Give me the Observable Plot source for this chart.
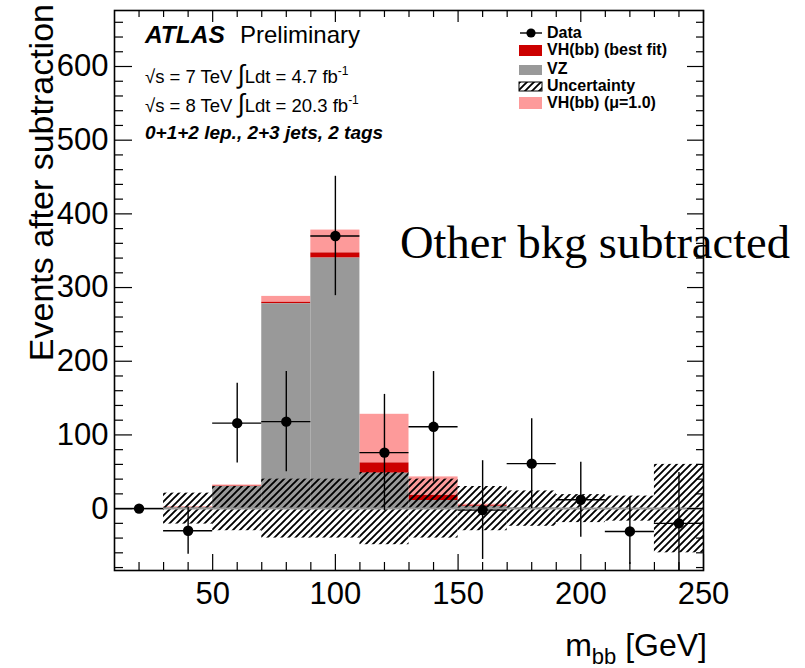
<!DOCTYPE html>
<html><head><meta charset="utf-8">
<script src="https://cdn.jsdelivr.net/npm/d3@7"></script>
<script src="https://cdn.jsdelivr.net/npm/@observablehq/plot@0.6"></script>
<style>body{margin:0;background:#fff}#chart{position:relative;width:805px;height:668px}</style>
</head><body><div id="chart"></div>
<script>
// ---- data ----
const binLow  = [10, 30, 50, 70, 90, 110, 130, 150, 170, 190, 210, 230];
const binHigh = [30, 50, 70, 90, 110, 130, 150, 170, 190, 210, 230, 250];
const vz          = [0, 1, 30, 278, 340, 48, 11, 3, 1, 0, 0, 0];
const vhBestFit   = [0, 0.5, 0.5, 2, 7, 14, 7, 1, 0, 0, 0, 0];
const vhMu1       = [0, 1, 1.5, 8, 31, 66, 25, 2, 0, 0, 0, 0];
const uncertainty = [0, 21, 30, 40, 40, 49, 40, 30, 24, 19, 17, 60];
const dataMass   = [20, 40, 60, 80, 100, 120, 140, 160, 180, 200, 220, 240];
const dataEvents = [0, -30, 116, 118, 370, 76, 111, -2, 61, 12, -31, -20];
const dataError  = [0, 32, 54, 68, 81, 79, 75, 67, 61, 51, 45, 69];
const xTickLabels = [50, 100, 150, 200, 250];
const yTickLabels = [0, 100, 200, 300, 400, 500, 600];
const xMinorTicks = [20, 30, 40, 60, 70, 80, 90, 110, 120, 130, 140, 160, 170, 180, 190, 210, 220, 230, 240];
const yMinorTicks = [-80, -60, -40, -20, 20, 40, 60, 80, 120, 140, 160, 180, 220, 240, 260, 280, 320, 340, 360, 380,
                     420, 440, 460, 480, 520, 540, 560, 580, 620, 640, 660];

const bins = binLow.map((lo, i) => ({
  lo, hi: binHigh[i], vz: vz[i], best: vhBestFit[i], mu1: vhMu1[i], unc: uncertainty[i]
}));
const points = dataMass.map((m, i) => ({
  m, lo: binLow[i], hi: binHigh[i], v: dataEvents[i], e: dataError[i]
}));

const W = 805, H = 668, mL = 114, mR = 102, mT = 10, mB = 98;
const frameW = W - mL - mR, frameH = H - mT - mB;
const major = 16, minor = 8;

const svg = Plot.plot({
  width: W, height: H,
  marginLeft: mL, marginRight: mR, marginTop: mT, marginBottom: mB,
  style: {fontFamily: "Liberation Sans, Arial, sans-serif", color: "black", background: "white"},
  x: {domain: [10, 250]},
  y: {domain: [-84, 676]},
  marks: [
    Plot.rect(bins, {x1: "lo", x2: "hi", y1: d => d.vz + d.best, y2: d => d.vz + d.best + d.mu1, fill: "#fd9a9a"}),
    Plot.rect(bins, {x1: "lo", x2: "hi", y1: d => d.vz, y2: d => d.vz + d.best, fill: "#cc0000"}),
    Plot.rect(bins, {x1: "lo", x2: "hi", y1: 0, y2: d => d.vz, fill: "#999999"}),
    Plot.rect(bins.filter(d => d.unc > 0), {x1: "lo", x2: "hi", y1: d => -d.unc, y2: d => d.unc, fill: "url(#hatch)"}),
    Plot.ruleY([0], {stroke: "#999999", strokeWidth: 2}),
    Plot.ruleY(points, {y: "v", x1: "lo", x2: "hi", stroke: "black", strokeWidth: 1.4}),
    Plot.ruleX(points.filter(d => d.e > 0), {x: "m", y1: d => d.v - d.e, y2: d => d.v + d.e, stroke: "black", strokeWidth: 1.4, clip: true}),
    Plot.dot(points, {x: "m", y: "v", r: 5.2, fill: "black"}),
    // ROOT-style inward ticks on all four sides
    Plot.tickX(xTickLabels, {x: d => d, insetTop: frameH - major, stroke: "black", strokeWidth: 1.2}),
    Plot.tickX(xMinorTicks, {x: d => d, insetTop: frameH - minor, stroke: "black", strokeWidth: 1.2}),
    Plot.tickX(xTickLabels, {x: d => d, insetBottom: frameH - major + 4, stroke: "black", strokeWidth: 1.2}),
    Plot.tickX(xMinorTicks, {x: d => d, insetBottom: frameH - minor + 1, stroke: "black", strokeWidth: 1.2}),
    Plot.tickY(yTickLabels, {y: d => d, insetRight: frameW - major - 2, stroke: "black", strokeWidth: 1.2}),
    Plot.tickY(yMinorTicks, {y: d => d, insetRight: frameW - minor - 1, stroke: "black", strokeWidth: 1.2}),
    Plot.tickY(yTickLabels, {y: d => d, insetLeft: frameW - major, stroke: "black", strokeWidth: 1.2}),
    Plot.tickY(yMinorTicks, {y: d => d, insetLeft: frameW - minor + 1, stroke: "black", strokeWidth: 1.2}),
    Plot.frame({stroke: "black", strokeWidth: 1.6}),
    Plot.axisX(xTickLabels, {tickSize: 0, tickPadding: 11, fontSize: 31, label: null}),
    Plot.axisY(yTickLabels, {tickSize: 0, tickPadding: 6, fontSize: 31, label: null})
  ]
});
document.getElementById("chart").appendChild(svg);

const s = d3.select(svg);
const defs = s.insert("defs", ":first-child");
const pat = defs.append("pattern").attr("id", "hatch").attr("patternUnits", "userSpaceOnUse")
  .attr("width", 7).attr("height", 7);
pat.append("path").attr("d", "M-1,1 l2,-2 M0,7 l7,-7 M6,8 l2,-2")
  .attr("stroke", "black").attr("stroke-width", 1.9).attr("fill", "none");

const sans = "Liberation Sans, Arial, sans-serif";
const ann = s.append("g").attr("text-anchor", "start").attr("fill", "black");
// y title
ann.append("text").attr("transform", "translate(53,4) rotate(-90)").attr("text-anchor", "end")
  .attr("font-family", sans).attr("font-size", 34).text("Events after subtraction");
// x title
const xt = ann.append("text").attr("x", 707).attr("y", 656).attr("text-anchor", "end")
  .attr("font-family", sans).attr("font-size", 32);
xt.append("tspan").text("m");
xt.append("tspan").attr("font-size", 22).attr("dy", 8).text("bb");
xt.append("tspan").attr("dy", -8).text(" [GeV]");

// ATLAS label block
const a1 = ann.append("text").attr("x", 145).attr("y", 43).attr("font-family", sans).attr("font-size", 24.5);
a1.append("tspan").attr("font-weight", "bold").attr("font-style", "italic").text("ATLAS");
a1.append("tspan").attr("x", 240).attr("font-size", 24).text("Preliminary");
function lumiLine(y, txt, lumi) {
  const t = ann.append("text").attr("x", 145).attr("y", y).attr("font-family", sans).attr("font-size", 18.5);
  t.append("tspan").text(txt + " ");
  t.append("tspan").attr("font-size", 26).text("∫");
  t.append("tspan").text("Ldt = " + lumi + " fb");
  t.append("tspan").attr("font-size", 12).attr("dy", -8).text("-1");
}
lumiLine(83, "√s = 7 TeV", "4.7");
lumiLine(112, "√s = 8 TeV", "20.3");
ann.append("text").attr("x", 145).attr("y", 139).attr("font-family", sans).attr("font-size", 19)
  .attr("font-weight", "bold").attr("font-style", "italic").text("0+1+2 lep., 2+3 jets, 2 tags");

// legend
const lg = ann.append("g").attr("font-family", sans).attr("font-size", 16).attr("font-weight", "bold");
lg.append("line").attr("x1", 520).attr("x2", 542).attr("y1", 33).attr("y2", 33).attr("stroke", "black").attr("stroke-width", 1.4);
lg.append("circle").attr("cx", 531).attr("cy", 33).attr("r", 4.6).attr("fill", "black");
lg.append("text").attr("x", 547).attr("y", 38).text("Data");
const boxes = [
  {y: 45, h: 11, fill: "#cc0000", label: "VH(bb) (best fit)", base: 55},
  {y: 65, h: 10, fill: "#999999", label: "VZ", base: 74},
  {y: 82, h: 9, fill: "url(#hatch)", label: "Uncertainty", base: 91, stroke: "black"},
  {y: 97, h: 12, fill: "#fd9a9a", label: "VH(bb) (μ=1.0)", base: 108}
];
for (const b of boxes) {
  lg.append("rect").attr("x", 519).attr("y", b.y).attr("width", 23).attr("height", b.h)
    .attr("fill", b.fill).attr("stroke", b.stroke || "none").attr("stroke-width", 1);
  lg.append("text").attr("x", 547).attr("y", b.base).text(b.label);
}

// annotation
ann.append("text").attr("x", 400).attr("y", 258).attr("font-family", "Liberation Serif, Times New Roman, serif")
  .attr("font-size", 46.5).text("Other bkg subtracted");
</script></body></html>
